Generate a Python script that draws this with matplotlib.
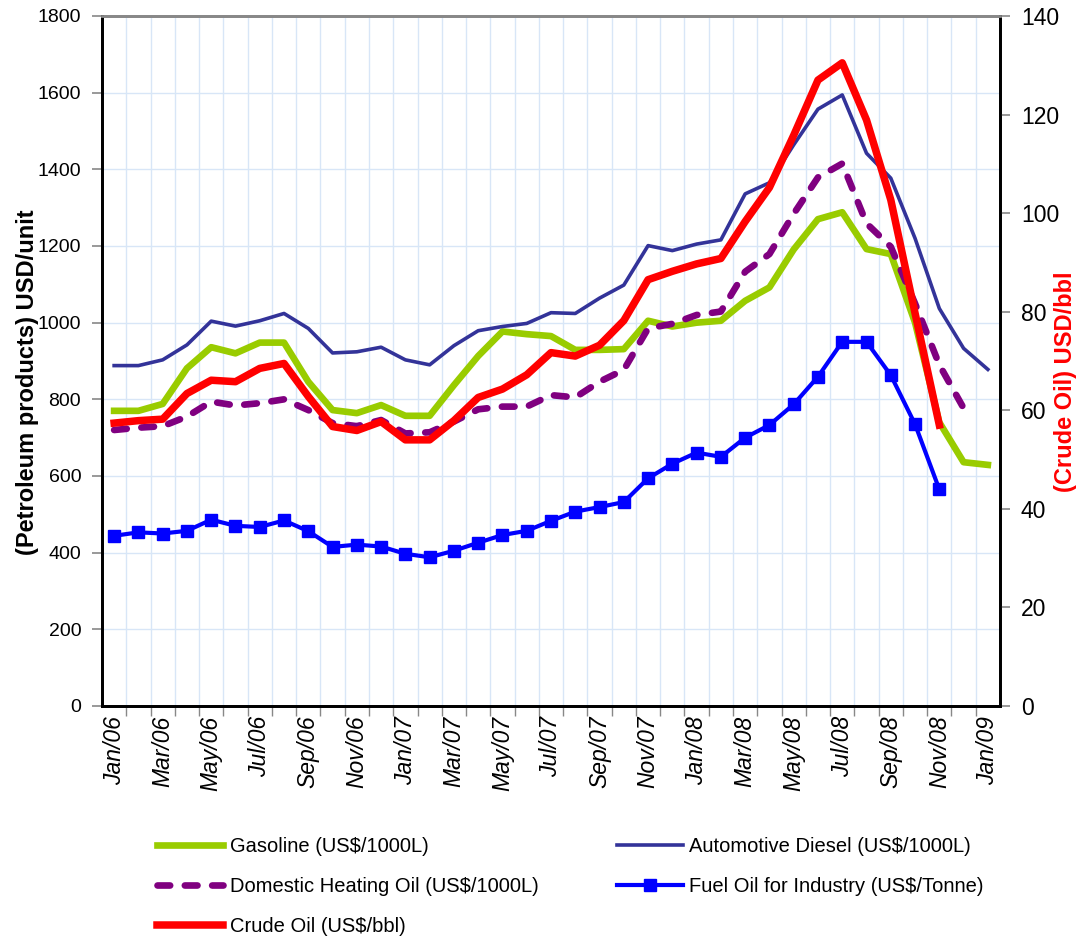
import numpy as np
import matplotlib
matplotlib.use('Agg')
import matplotlib.pyplot as plt

plt.rcParams['font.family'] = ['Liberation Sans', 'DejaVu Sans']

# --- date ---
luni = ['Jan/06', 'Feb/06', 'Mar/06', 'Apr/06', 'May/06', 'Jun/06', 'Jul/06', 'Aug/06', 'Sep/06',
        'Oct/06', 'Nov/06', 'Dec/06', 'Jan/07', 'Feb/07', 'Mar/07', 'Apr/07', 'May/07', 'Jun/07',
        'Jul/07', 'Aug/07', 'Sep/07', 'Oct/07', 'Nov/07', 'Dec/07', 'Jan/08', 'Feb/08', 'Mar/08',
        'Apr/08', 'May/08', 'Jun/08', 'Jul/08', 'Aug/08', 'Sep/08', 'Oct/08', 'Nov/08', 'Dec/08',
        'Jan/09']

gasoline = [770, 770, 788, 881, 936, 920, 948, 948, 846, 772, 764, 785,
            757, 757, 837, 913, 977, 970, 965, 929, 929, 931,
            1005, 990, 1000, 1005, 1057, 1092, 1191, 1270, 1288, 1192, 1179, 1000, 740, 636, 629]

diesel = [888, 888, 903, 942, 1004, 991, 1005, 1024, 985, 921, 924, 936,
          903, 890, 940, 979, 990, 998, 1026, 1024, 1064, 1098,
          1201, 1188, 1205, 1216, 1336, 1365, 1464, 1557, 1594, 1442, 1377, 1220, 1037, 933, 878]

heating = [720, 726, 730, 755, 794, 784, 790, 800, 772, 738, 730, 746,
           711, 714, 742, 774, 781, 781, 811, 805, 846, 877,
           985, 997, 1020, 1029, 1133, 1179, 1284, 1379, 1415, 1259, 1198, 1050, 890, 777]

fuel_oil = [444, 453, 450, 457, 486, 470, 467, 484, 456, 415, 421, 416,
            397, 388, 405, 426, 446, 457, 483, 507, 519, 532,
            594, 632, 661, 650, 700, 733, 787, 859, 950, 950, 863, 735, 565]

crude = [57.4, 57.9, 58.2, 63.4, 66.1, 65.8, 68.5, 69.5, 62.8, 56.7, 55.9, 57.7,
         54.0, 54.0, 57.9, 62.6, 64.3, 67.2, 71.7, 71.0, 73.2, 78.2,
         86.5, 88.2, 89.7, 90.8, 98.3, 105.2, 115.8, 127.0, 130.5, 118.9, 102.7, 79.7, 57.0]

x = np.arange(len(luni))

fig = plt.figure(figsize=(10.82, 9.41), dpi=100)
ax = fig.add_axes([102 / 1082, 1 - 706 / 941, 898 / 1082, 690 / 941])
ax2 = ax.twinx()

grid_col = '#d8e6f7'

# --- axa stanga ---
l_gas, = ax.plot(x[:len(gasoline)], gasoline, color='#99cc00', lw=4.8)
l_die, = ax.plot(x[:len(diesel)], diesel, color='#333399', lw=2.6)
l_hea, = ax.plot(x[:len(heating)], heating, color='#800080', lw=4.8,
                 linestyle=(0, (1.9, 2.2)), dash_capstyle='round')
l_fue, = ax.plot(x[:len(fuel_oil)], fuel_oil, color='#0000ff', lw=3, marker='s', markersize=8)

ax.set_xlim(-0.5, len(luni) - 0.5)
ax.set_ylim(0, 1800)
ax.set_yticks(np.arange(0, 1801, 200))
ax.tick_params(axis='y', labelsize=14, length=7, width=1.2, color='#888888', pad=8)

ax.set_xticks(x[::2])
ax.set_xticklabels(luni[::2], rotation=90, fontsize=16.5, style='italic', va='top', ha='center')
ax.set_xticks(x[:-1] + 0.5, minor=True)
ax.tick_params(axis='x', which='major', length=0, pad=7)
ax.tick_params(axis='x', which='minor', length=7, width=1, color='#888888')

for v in np.arange(200, 1800, 200):
    ax.axhline(v, color=grid_col, lw=1, zorder=0)
for v in x[:-1] + 0.5:
    ax.axvline(v, color=grid_col, lw=1, zorder=0)

ax.set_ylabel('(Petroleum products) USD/unit', fontsize=17, fontweight='bold')
ax.yaxis.set_label_coords(-0.070, 0.47)

# --- axa dreapta ---
l_cru, = ax2.plot(x[:len(crude)], crude, color='#ff0000', lw=5.4)
ax2.set_ylim(0, 140)
ax2.set_yticks(np.arange(0, 141, 20))
ax2.tick_params(axis='y', labelsize=16.5, length=7, width=1.2, color='#888888', pad=8)
ax2.set_ylabel('(Crude Oil) USD/bbl', fontsize=17, fontweight='bold', color='#ff0000')
ax2.yaxis.set_label_coords(1.06, 0.47)

for a in (ax, ax2):
    a.spines['left'].set_linewidth(2)
    a.spines['right'].set_linewidth(2)
    a.spines['bottom'].set_linewidth(2)
    a.spines['top'].set_color('#888888')
    a.spines['top'].set_linewidth(2)

# --- legenda ---
handles = [l_gas, l_hea, l_cru, l_die, l_fue]
labels = ['Gasoline (US$/1000L)', 'Domestic Heating Oil (US$/1000L)', 'Crude Oil (US$/bbl)',
          'Automotive Diesel (US$/1000L)', 'Fuel Oil for Industry (US$/Tonne)']
fig.legend(handles, labels, ncol=2, frameon=False, fontsize=14.5,
           loc='upper left', bbox_to_anchor=(157 / 1082, 1 - 837 / 941),
           handlelength=3.3, handletextpad=0.3, columnspacing=3.9, labelspacing=1.05,
           borderpad=0, borderaxespad=0)

fig.savefig('out.png', dpi=100)
